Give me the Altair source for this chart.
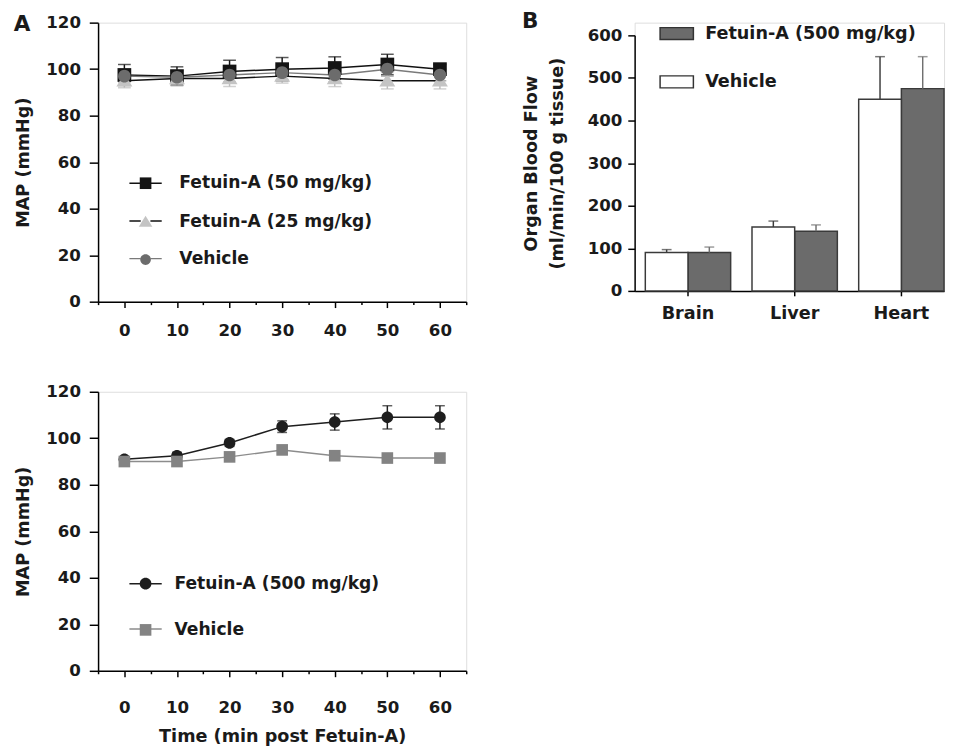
import altair as alt
import pandas as pd

FONT = "DejaVu Sans"
TXT = "#1a1a1a"

# ---------------- data ----------------
time_min = [0, 10, 20, 30, 40, 50, 60]

# Panel A (top): three series
a_series = ["Fetuin-A (50 mg/kg)", "Fetuin-A (25 mg/kg)", "Vehicle"]
map_f50 = [97.5, 97, 99, 100, 100.5, 102, 100]
sem_f50 = [4.5, 4, 4.8, 5, 4.8, 4.4, 2]
map_f25 = [95, 96, 96, 97, 96, 95, 95]
sem_f25 = [3, 3, 3.5, 3, 3.5, 3.5, 3.5]
map_veh = [97, 96.5, 97.5, 98.5, 97.5, 100, 97.5]
sem_veh = [2.5, 3, 3, 3, 3, 3, 2.5]

# Panel A (bottom): two series
b_series = ["Fetuin-A (500 mg/kg)", "Vehicle"]
map_f500 = [91, 92.5, 98, 105, 107, 109, 109]
sem_f500 = [1, 1.5, 1.5, 2.5, 3.5, 5, 5]
map_veh2 = [90, 90, 92, 95, 92.5, 91.5, 91.5]
sem_veh2 = [1, 1, 1.5, 1.5, 1, 1, 1]

# Panel B: organ blood flow
organs = ["Brain", "Liver", "Heart"]
bar_groups = ["Fetuin-A (500 mg/kg)", "Vehicle"]
flow_fet = [90, 140, 475]
err_fet = [13, 15, 75]
flow_veh = [90, 150, 450]
err_veh = [7, 14, 100]

panel_letters = ["A", "B"]

x_ticks = list(range(-5, 70, 5))
map_ticks = list(range(0, 130, 10))
flow_ticks = list(range(0, 650, 50))

# ---------------- symbols ----------------
SQ = "M-0.36,-0.36H0.36V0.36H-0.36Z"
TRI = "M0,-0.38L0.42,0.3H-0.42Z"
CIR = "M0.36,0A0.36,0.36,0,1,1,-0.36,0A0.36,0.36,0,1,1,0.36,0Z"
CIR_S = "M0.33,0A0.33,0.33,0,1,1,-0.33,0A0.33,0.33,0,1,1,0.33,0Z"
LINE_GAP = "M-1,0H-0.3M0.3,0H1"
RECT = "M-1,-0.36H1V0.36H-1Z"


def long_df(series, values, errors):
    rows = []
    for s, vals, errs in zip(series, values, errors):
        for t, v, e in zip(time_min, vals, errs):
            rows.append({"time": t, "map": v, "lo": v - e, "hi": v + e,
                         "series": s, "line_series": s, "err_series": s})
    return pd.DataFrame(rows)


def axis_common(**kw):
    base = dict(grid=False, domainColor="black", tickColor="black", domainWidth=1.5,
                tickWidth=1.5, labelFont=FONT, labelFontWeight="bold", labelFontSize=17,
                labelColor=TXT, titleFont=FONT, titleFontWeight="bold", titleFontSize=18,
                titleColor=TXT, labelOverlap=False, labelFlush=False)
    base.update(kw)
    return alt.Axis(**base)


def map_chart(df, series, line_colors, marker_colors, err_colors, shapes, point_size,
              cap, leg_y, row_pad, label_off, x_title, x_label_pad, letter):
    xaxis = axis_common(
        values=x_ticks,
        labelExpr="datum.value % 10 === 0 ? datum.label : ''",
        tickSize={"condition": {"test": "datum.value % 10 !== 0", "value": 3}, "value": 6},
        labelPadding=x_label_pad, title=x_title, titlePadding=12)
    yaxis = axis_common(
        values=map_ticks,
        labelExpr="datum.value % 20 === 0 ? datum.label : ''",
        tickSize={"condition": {"test": "datum.value % 20 !== 0", "value": 4}, "value": 9},
        labelPadding=9, title="MAP (mmHg)", titlePadding=14)
    X = alt.X("time:Q", scale=alt.Scale(domain=[-5, 65], nice=False, zero=False), axis=xaxis)
    Y = alt.Y("map:Q", scale=alt.Scale(domain=[0, 120], nice=False), axis=yaxis)

    leg_common = dict(title=None, orient="none", legendX=31, legendY=leg_y, padding=0,
                      symbolSize=1089, symbolStrokeWidth=1.5, labelFont=FONT,
                      labelFontWeight="bold", labelFontSize=17.5, labelColor=TXT,
                      labelOffset=label_off, rowPadding=row_pad, labelLimit=400)
    line_legend = alt.Legend(symbolType=LINE_GAP, labelOpacity=0,
                             symbolFillColor="transparent", **leg_common)
    marker_legend = alt.Legend(labelOpacity=1, symbolStrokeColor="transparent",
                               symbolOpacity=1, **leg_common)

    err_color = alt.Color("err_series:N", sort=series, scale=alt.Scale(range=err_colors),
                          legend=None)
    rules = alt.Chart(df).mark_rule(strokeWidth=1.5).encode(x=X, y="lo:Q", y2="hi:Q", color=err_color)
    cap_hi = alt.Chart(df).mark_tick(orient="horizontal", size=cap, thickness=1.5).encode(
        x=X, y="hi:Q", color=err_color)
    cap_lo = alt.Chart(df).mark_tick(orient="horizontal", size=cap, thickness=1.5).encode(
        x=X, y="lo:Q", color=err_color)
    lines = alt.Chart(df).mark_line(strokeWidth=1.5).encode(
        x=X, y=Y,
        stroke=alt.Stroke("line_series:N", sort=series, scale=alt.Scale(range=line_colors),
                          legend=line_legend))
    points = alt.Chart(df).mark_point(filled=True, opacity=1, size=point_size, strokeWidth=0).encode(
        x=X, y=Y,
        fill=alt.Fill("series:N", scale=alt.Scale(domain=series, range=marker_colors),
                      legend=marker_legend),
        shape=alt.Shape("series:N", scale=alt.Scale(domain=series, range=shapes),
                        legend=marker_legend))
    layers = [rules, cap_hi, cap_lo, lines, points]
    if letter:
        txt = alt.Chart(pd.DataFrame({"letter": [letter]})).mark_text(
            font=FONT, fontSize=22, fontWeight="bold", align="left", baseline="alphabetic",
            color=TXT).encode(x=alt.value(-86), y=alt.value(9), text="letter:N")
        layers.append(txt)
    return alt.layer(*layers).properties(width=376, height=285)


df_top = long_df(a_series, [map_f50, map_f25, map_veh], [sem_f50, sem_f25, sem_veh])
df_bot = long_df(b_series, [map_f500, map_veh2], [sem_f500, sem_veh2])

top = map_chart(df_top, a_series,
                line_colors=["#111111", "#111111", "#7a7a7a"],
                marker_colors=["#141414", "#c4c4c4", "#6c6c6c"],
                err_colors=["#141414", "#bdbdbd", "#8a8a8a"],
                shapes=[SQ, TRI, CIR_S], point_size=1512, cap=13,
                leg_y=146.5, row_pad=12.5, label_off=17,
                x_title=None, x_label_pad=16, letter=panel_letters[0])

bottom = map_chart(df_bot, b_series,
                   line_colors=["#1e1e1e", "#8c8c8c"],
                   marker_colors=["#1e1e1e", "#838383"],
                   err_colors=["#1e1e1e", "#8c8c8c"],
                   shapes=[CIR, SQ], point_size=1089, cap=10,
                   leg_y=178.5, row_pad=20.2, label_off=12,
                   x_title="Time (min post Fetuin-A)", x_label_pad=24, letter=None)

# ---------------- panel B ----------------
b_rows = []
for g, vals, errs in zip(bar_groups, [flow_fet, flow_veh], [err_fet, err_veh]):
    for o, v, e in zip(organs, vals, errs):
        b_rows.append({"organ": o, "group": g, "flow": v, "hi": v + e, "err_group": g})
df_b = pd.DataFrame(b_rows)

B_TOP = 13      # plot of panel B starts 13 px below panel A's top
B_H = 261

bx_axis = axis_common(labelAngle=0, tickSize=5, labelPadding=9, title=None, labelFontSize=18)
by_axis = axis_common(
    values=flow_ticks,
    labelExpr="datum.value % 100 === 0 ? datum.label : ''",
    tickSize={"condition": {"test": "datum.value % 100 !== 0", "value": 4}, "value": 7},
    labelPadding=6, title=["Organ Blood Flow", "(ml/min/100 g tissue)"],
    titleLineHeight=27, titlePadding=21)

BX = alt.X("organ:N", sort=organs,
           scale=alt.Scale(domain=organs, paddingInner=0.2, paddingOuter=0.05, align=1),
           axis=bx_axis)
BXO = alt.XOffset("group:N", sort=["Vehicle", bar_groups[0]],
                  scale=alt.Scale(domain=["Vehicle", bar_groups[0]], paddingInner=0, paddingOuter=0))
BY = alt.Y("flow:Q", scale=alt.Scale(domain=[0, 600], nice=False, range=[B_TOP + B_H, B_TOP]),
           axis=by_axis)

bar_legend = alt.Legend(title=None, orient="none", legendX=25, legendY=-6.8, padding=0,
                        symbolType=RECT, symbolSize=1156, symbolStrokeColor="#333333",
                        symbolStrokeWidth=1.5, symbolOpacity=1, labelFont=FONT,
                        labelFontWeight="bold", labelFontSize=18, labelColor=TXT,
                        labelOffset=11, rowPadding=21.3, labelLimit=400)

bars = alt.Chart(df_b).mark_bar(stroke="#3a3a3a", strokeWidth=1.5, opacity=1).encode(
    x=BX, xOffset=BXO, y=BY,
    fill=alt.Fill("group:N", scale=alt.Scale(domain=bar_groups, range=["#6b6b6b", "#ffffff"]),
                  legend=bar_legend))
b_err_color = alt.Color("err_group:N", sort=bar_groups, scale=alt.Scale(range=["#707070", "#3c3c3c"]),
                        legend=None)
b_rules = alt.Chart(df_b).mark_rule(strokeWidth=1.5).encode(
    x=BX, xOffset=BXO, y="flow:Q", y2="hi:Q", color=b_err_color)
b_caps = alt.Chart(df_b).mark_tick(orient="horizontal", size=10, thickness=1.5).encode(
    x=BX, xOffset=BXO, y="hi:Q", color=b_err_color)
b_txt = alt.Chart(pd.DataFrame({"letter": [panel_letters[1]]})).mark_text(
    font=FONT, fontSize=22, fontWeight="bold", align="left", baseline="alphabetic",
    color=TXT).encode(x=alt.value(-115), y=alt.value(5), text="letter:N")

panel_b = alt.layer(bars, b_rules, b_caps, b_txt).properties(width=316, height=B_TOP + B_H)

indep = dict(fill="independent", shape="independent", stroke="independent", color="independent")

left = alt.vconcat(top, bottom, spacing=43).resolve_scale(**indep).resolve_legend(**indep)

chart = alt.hconcat(left, panel_b, spacing=54).resolve_scale(**indep).resolve_legend(**indep
).properties(padding={"left": 5, "top": -7, "right": 0, "bottom": 0}
).configure_view(stroke=None).configure(background="white")

chart.save("out.html", embed_options={"renderer": "svg", "actions": False})
